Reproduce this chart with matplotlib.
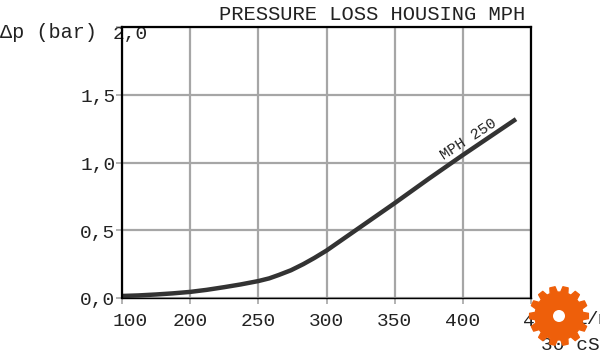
import numpy as np
import matplotlib
matplotlib.use("Agg")
from matplotlib import pyplot as plt
from matplotlib.patches import Polygon, Circle
from matplotlib.transforms import ScaledTranslation

flow = [150, 162, 175, 187, 200, 212, 225, 237, 250, 258, 265, 274, 283, 291, 300, 325, 350, 375, 400, 425, 439]
dp = [0.015, 0.019, 0.026, 0.034, 0.045, 0.06, 0.08, 0.10, 0.125, 0.145, 0.17, 0.205, 0.25, 0.295, 0.35, 0.525, 0.70, 0.88, 1.055, 1.225, 1.32]

x_ticks = [150, 200, 250, 300, 350, 400, 450]
x_labels = ["100", "200", "250", "300", "350", "400", "450"]
y_ticks = [0, 0.5, 1.0, 1.5, 2.0]
y_labels = ["0,0", "0,5", "1,0", "1,5", "2,0"]

W, H = 600, 355
plt.rcParams['font.family'] = ['Liberation Mono', 'DejaVu Sans']

fig = plt.figure(figsize=(W / 100, H / 100), dpi=100)
ax = fig.add_axes([122 / W, 1 - 298 / H, 409 / W, 271 / H])
ax.set_xlim(150, 450)
ax.set_ylim(0, 2)

ax.grid(True, color="#a6a6a6", lw=1.6)
ax.set_axisbelow(True)
ax.set_xticks(x_ticks)
ax.set_xticklabels(x_labels)
ax.set_yticks(y_ticks)
ax.set_yticklabels(y_labels)
ax.tick_params(length=4.5, width=1.2, color="#a6a6a6", labelsize=14, labelcolor="#222222", pad=3)
ax.tick_params(axis="x", pad=6)

# 100 and 450 sit off their ticks, 2,0 runs over the axis
first = ax.get_xticklabels()[0]
first.set_transform(first.get_transform() + ScaledTranslation(8 / 100, 0, fig.dpi_scale_trans))
last = ax.get_xticklabels()[-1]
last.set_transform(last.get_transform() + ScaledTranslation(10 / 100, 0, fig.dpi_scale_trans))
top = ax.get_yticklabels()[-1]
top.set_transform(top.get_transform() + ScaledTranslation(36 / 100, -5 / 100, fig.dpi_scale_trans))
for lab in ax.get_yticklabels()[:-1]:
    lab.set_transform(lab.get_transform() + ScaledTranslation(4 / 100, -1 / 100, fig.dpi_scale_trans))

for s in ["left", "top", "right"]:
    ax.spines[s].set_linewidth(1.6)
ax.spines["bottom"].set_linewidth(1.0)

ax.plot(flow, dp, color="#333333", lw=3.2, solid_capstyle="butt", solid_joinstyle="round", clip_on=False)
ax.text(404, 1.17, "MPH 250", fontsize=11, rotation=33, ha="center", va="center", color="#222222")


def px(x, y):
    return x / W, 1 - y / H


fig.text(*px(372, 14), "PRESSURE LOSS HOUSING MPH", fontsize=14.8, ha="center", va="center", color="#222222")
fig.text(*px(0, 32), "Δp (bar)", fontsize=14.5, ha="left", va="center", color="#222222")
fig.text(*px(575, 319), "l/min", fontsize=14, ha="left", va="center", color="#222222")
fig.text(*px(541, 345), "30 cSt", fontsize=14, ha="left", va="center", color="#222222")

# gear logo, drawn in pixel space over everything
gear_ax = fig.add_axes([0, 0, 1, 1], facecolor="none")
gear_ax.set_zorder(5)
gear_ax.set_xlim(0, W)
gear_ax.set_ylim(H, 0)
gear_ax.axis("off")
teeth = 14
pts = []
for i in range(teeth):
    a = 2 * np.pi * i / teeth
    w = 2 * np.pi / teeth
    for da, r in [(-0.34, 24), (-0.20, 29.5), (0.20, 29.5), (0.34, 24)]:
        pts.append((559 + r * np.cos(a + da * w), 316 + r * np.sin(a + da * w)))
gear_ax.add_patch(Polygon(pts, closed=True, facecolor="#ee5f0a", edgecolor="#ee5f0a", lw=1, joinstyle="round"))
gear_ax.add_patch(Circle((559, 316), 6, facecolor="white", edgecolor="none"))

fig.savefig("out.png", dpi=100)
